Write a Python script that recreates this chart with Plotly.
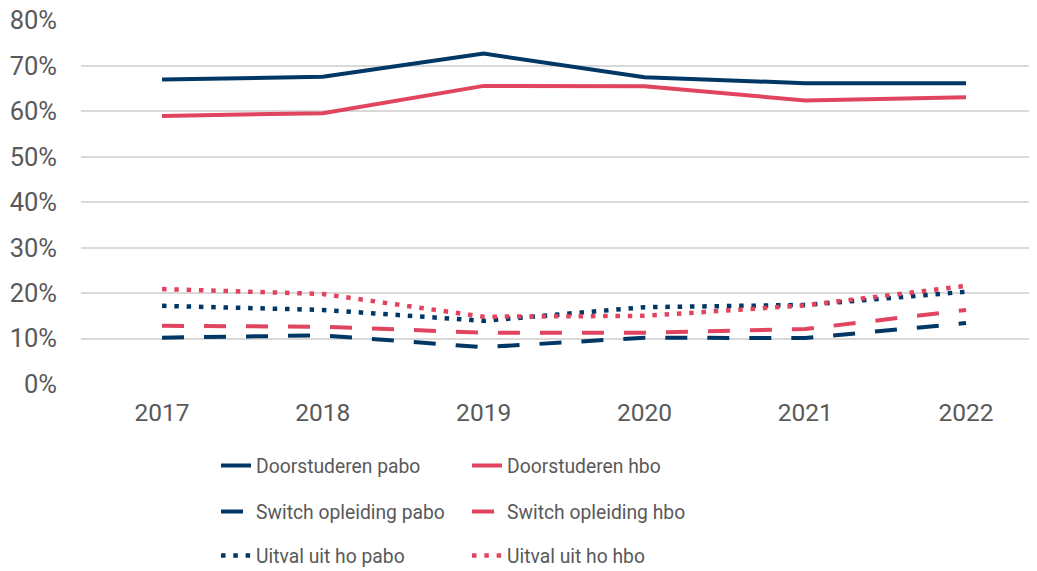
import plotly.graph_objects as go

years = [2017, 2018, 2019, 2020, 2021, 2022]
year_labels = ["2017", "2018", "2019", "2020", "2021", "2022"]

doorstuderen_pabo = [0.670, 0.676, 0.727, 0.675, 0.662, 0.662]
doorstuderen_hbo = [0.590, 0.596, 0.656, 0.655, 0.624, 0.631]
switch_pabo = [0.102, 0.107, 0.081, 0.102, 0.101, 0.134]
switch_hbo = [0.128, 0.126, 0.113, 0.113, 0.121, 0.163]
uitval_pabo = [0.172, 0.163, 0.139, 0.169, 0.174, 0.203]
uitval_hbo = [0.209, 0.198, 0.148, 0.150, 0.173, 0.216]

y_ticks = [0, 0.1, 0.2, 0.3, 0.4, 0.5, 0.6, 0.7, 0.8]
y_tick_labels = ["0%", "10%", "20%", "30%", "40%", "50%", "60%", "70%", "80%"]

NAVY = "#003764"
RED = "#E0445E"
GREY = "#595959"
FONT = "Roboto"

DASH = "22px,20px"
DOT = "4.5px,7.8px"

series = [
    ("Doorstuderen pabo", doorstuderen_pabo, NAVY, "solid", "legend"),
    ("Doorstuderen hbo", doorstuderen_hbo, RED, "solid", "legend"),
    ("Switch opleiding pabo", switch_pabo, NAVY, DASH, "legend2"),
    ("Switch opleiding hbo", switch_hbo, RED, DASH, "legend2"),
    ("Uitval uit ho pabo", uitval_pabo, NAVY, DOT, "legend3"),
    ("Uitval uit ho hbo", uitval_hbo, RED, DOT, "legend3"),
]

fig = go.Figure()
for name, vals, color, dash, leg in series:
    fig.add_trace(go.Scatter(
        x=years, y=vals, name=name, mode="lines",
        line=dict(color=color, width=4.5 if dash == DOT else 4, dash=dash),
        legend=leg,
    ))

legend_common = dict(
    orientation="h", xanchor="left", yanchor="middle",
    xref="container", yref="container",
    font=dict(family=FONT, size=19.3, color=GREY),
    entrywidth=206, entrywidthmode="pixels",
    bgcolor="rgba(0,0,0,0)", traceorder="normal",
    itemclick=False, itemdoubleclick=False,
)

H = 571.0
fig.update_layout(
    width=1037, height=571,
    margin=dict(l=73, r=0, t=12.25, b=195, autoexpand=False),
    plot_bgcolor="white", paper_bgcolor="white",
    font=dict(family=FONT, size=20, color=GREY),
    showlegend=True,
    legend=dict(**legend_common, x=0.2006, y=1 - 458 / H),
    legend2=dict(**legend_common, x=0.2006, y=1 - 504 / H),
    legend3=dict(**legend_common, x=0.2006, y=1 - 548 / H),
    xaxis=dict(
        tickmode="array", tickvals=years, ticktext=year_labels,
        range=[2016.496, 2022.491], showgrid=False, zeroline=False,
        showline=False, ticks="", ticklabelstandoff=11, automargin=False,
        tickfont=dict(family=FONT, size=24.5, color=GREY),
    ),
    yaxis=dict(
        tickmode="array", tickvals=y_ticks, ticktext=y_tick_labels,
        range=[0, 0.801], showgrid=True, gridcolor="#D9D9D9", gridwidth=1.5,
        zeroline=False, showline=False, ticks="", ticklabelstandoff=23,
        ticklabeloverflow="allow", automargin=False,
        tickfont=dict(family=FONT, size=25.5, color=GREY),
    ),
)

fig.write_html("out.html")
